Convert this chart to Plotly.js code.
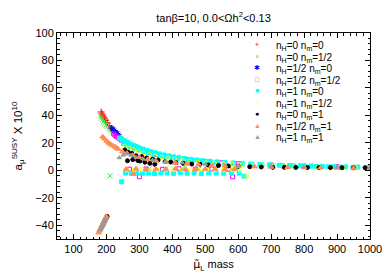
<!DOCTYPE html>
<html><head><meta charset="utf-8">
<script src="https://cdn.plot.ly/plotly-3.0.1.min.js"></script>
<style>html,body{margin:0;padding:0;background:#fff}#chart{width:389px;height:273px}</style>
</head><body><div id="chart"></div>
<script>
// ---- series labels ----
const seriesNames = [
  'n<sub>H</sub>=0 n<sub>m</sub>=0',
  'n<sub>H</sub>=0 n<sub>m</sub>=1/2',
  'n<sub>H</sub>=1/2 n<sub>m</sub>=0',
  'n<sub>H</sub>=1/2 n<sub>m</sub>=1/2',
  'n<sub>H</sub>=1 n<sub>m</sub>=0',
  'n<sub>H</sub>=1 n<sub>m</sub>=1/2',
  'n<sub>H</sub>=0 n<sub>m</sub>=1',
  'n<sub>H</sub>=1/2 n<sub>m</sub>=1',
  'n<sub>H</sub>=1 n<sub>m</sub>=1'
];
const legendGlyphs = ['+','×','✱','□','■','○','●','▲','▲'];

// ---- data: smuon_L mass (GeV) and a_mu^SUSY x 10^10 ----
const m_H0_m0 = [184,187,190,194,198,203,208,214,220,227,235];
const a_H0_m0 = [42.5,41,39.5,38,36.5,34.5,32.5,30.5,29,27.5,26];

const m_H0_mhalf = [182,185,188,191,195,199,203,208,213,218,224,230,237,245,254,265,278,292,308,325,211,330,380,430,480,530,580];
const a_H0_mhalf = [39.5,38,36.8,35.5,34,33,32,30.5,29.5,28.5,27.5,26.5,25,23.5,22,20.5,18.5,16.8,15,13.5,-4,1.2,1,1.3,0.9,1.1,0.8];

const m_Hhalf_m0 = [216,220,224,228,232,236];
const a_Hhalf_m0 = [30.8,29.8,28.8,27.8,26.8,25.8];

const m_Hhalf_mhalf = [222,226,230,235,240,246,252,258,265,273,282,292,303,315,330,350,375,400,450,500,550,600,700,800,900,1000,270,320,370,420,470,520,570,300,583];
const a_Hhalf_mhalf = [26.5,25.5,24.8,24,23,22,21,20,19,18,17,16,15,14,12.8,11.5,10.2,9,7.5,6.4,5.5,4.8,3.8,3.1,2.6,2.2,0.8,1,0.7,1.1,0.9,1,0.8,-4.7,-4.7];

const m_H1_m0 = [240,248,256,264,272,281,290,300,311,322,334,347,360,374,389,404,420,437,455,474,494,515,537,560,585,611,638,666,695,725,756,788,821,855,890,926,963,1000,
  252,262,273,285,298,312,327,343,360,378,397,417,438,460,483,507,532,558,585,613,642,672,703,735,768,802,837,873,910,948,990,
  258,275,292,310,328,346,365,384,404,424,445,466,488,510,533,556,580,603,246,618];
const a_H1_m0 = [23.5,22.3,21.2,20.2,19.2,18.2,17.3,16.3,15.4,14.5,13.6,12.8,12,11.2,10.5,9.8,9.2,8.6,8,7.5,7,6.5,6.1,5.7,5.3,4.9,4.6,4.3,4,3.7,3.5,3.3,3.1,2.9,2.7,2.5,2.4,2.3,
  19.5,18.3,17.2,16,14.9,13.8,12.8,11.8,10.9,10,9.3,8.6,7.9,7.3,6.8,6.3,5.8,5.4,5,4.6,4.3,4,3.7,3.4,3.2,3,2.8,2.6,2.4,2.2,2,
  -2,-2.2,-1.8,-2.1,-2,-2.3,-1.9,-2,-2.2,-1.8,-2.1,-2,-2.2,-1.9,-2,-2.1,-1.8,-2,-8.3,-4.2];

const m_H1_mhalf = [255,268,282,297,313,330,348,367,387,408,430,453,477,502,528,555,583,612,642,673,705,738,772,807,843,880,918,957,1000,
  262,285,308,332,356,380,405,430,455,480,505,530,556,582,605,626];
const a_H1_mhalf = [17.5,16.3,15,13.8,12.6,11.5,10.5,9.6,8.8,8,7.3,6.7,6.1,5.6,5.1,4.7,4.3,3.9,3.6,3.3,3,2.7,2.5,2.3,2.1,1.9,1.7,1.6,1.5,
  0.4,0.2,0.5,0.3,0.1,0.4,0.2,0.5,0.3,0.2,0.4,0.3,0.1,0.4,0.2,-4.2];

const m_H0_m1 = [256,266,277,290,307,322,340,357,378,395,411,433,459,484,509,540,570,600,635,670,705,740,775,810,845,880,915,950,985,
  264,280,295,302,317,332,347,
  186,188,190,192,194,196,198,200,202];
const a_H0_m1 = [14.8,13.2,12.4,10.6,10,9,8.2,7.5,6.3,6,5.6,5.1,4.6,4.4,3.9,3.5,3.2,2.9,2.6,2.4,2.2,2.2,2.1,2.1,2,2,1.9,1.9,1.9,
  7,7.8,7.2,6.8,5.9,5.1,4.4,
  -41,-40,-39,-38,-37,-36,-35,-34.2,-33.6];

const m_Hhalf_m1 = [188.6,194,200.8,207,213,219,226,231,236,249,262,280,300,325,350,380,410,445,480,520,560,600,650,700,750,800,850,900,950,1000,
  260,290,320,350,380,410,440,470,500,530,560,590,282,
  176.5,179,182,185,188,191,194,197,200];
const a_Hhalf_m1 = [24.5,23,21.3,20,18.9,18,17.2,16.3,15.5,13.6,12.5,11,9.5,8,7,6,5.3,4.7,4.2,3.7,3.3,3,2.7,2.4,2.2,2,1.9,1.8,1.7,1.6,
  0.9,1.1,0.8,1,0.9,1.2,0.8,1,0.9,1.1,0.8,1,-2.7,
  -45.4,-44,-42.5,-41,-39.5,-38,-36.5,-35,-33.8];

const m_H1_m1 = [239,251,262,275,290,310,340,380,430,500,600,700,800,900,1000,182,185,188,191,194,197];
const a_H1_m1 = [9.2,11.1,12,11,9.5,8.5,7.5,6.5,5.5,4.5,3.5,3,2.5,2.2,2,-43,-41.5,-40,-38.5,-37,-35.5];

const seriesM = [m_H0_m0,m_H0_mhalf,m_Hhalf_m0,m_Hhalf_mhalf,m_H1_m0,m_H1_mhalf,m_H0_m1,m_Hhalf_m1,m_H1_m1];
const seriesA = [a_H0_m0,a_H0_mhalf,a_Hhalf_m0,a_Hhalf_mhalf,a_H1_m0,a_H1_mhalf,a_H0_m1,a_Hhalf_m1,a_H1_m1];

// ---- styles ----
const colors = ['#ff0000','#33ee33','#0000ff','#ff00ff','#00ffff','#ffff00','#000000','#ff8c55','#999999'];
const symbols = ['cross-thin-open','x-thin-open','asterisk-open','square-open','square','circle-open','circle','triangle-up','triangle-up'];
const sizes = [5,5,5,4,4,4,4,5,4];

const traces = seriesM.map((m,i)=>({
  type:'scatter', mode:'markers', x:m, y:seriesA[i], name:seriesNames[i],
  marker:{symbol:symbols[i], size:sizes[i], color:colors[i], line:{color:colors[i], width:1}},
  hoverinfo:'skip'
}));

const L=57, R=370, T=33, B=239;
const px2paperX = px => (px-L)/(R-L);
const px2paperY = py => (B-py)/(B-T);

const annotations = [];
seriesNames.forEach((nm,i)=>{
  const py = 45 + i*11.45;
  annotations.push({xref:'paper',yref:'paper',x:px2paperX(257),y:px2paperY(py),text:legendGlyphs[i],showarrow:false,
    xanchor:'center',yanchor:'middle',font:{size:7,color:colors[i]}});
  annotations.push({xref:'paper',yref:'paper',x:px2paperX(275),y:px2paperY(py+1.5),text:nm,showarrow:false,
    xanchor:'left',yanchor:'middle',borderpad:0,font:{size:10,color:'#000'}});
});

const axisCommon = {
  ticks:'inside', ticklen:5, tickwidth:1, tickcolor:'#000', mirror:'ticks',
  showline:true, linecolor:'#000', linewidth:1, showgrid:false, zeroline:false,
  tickfont:{size:11,color:'#000'}
};

const layout = {
  width:389, height:273,
  margin:{l:L, r:389-R, t:T, b:273-B, pad:0},
  paper_bgcolor:'#fff', plot_bgcolor:'#fff',
  font:{family:'Liberation Sans, Arial, sans-serif', size:11, color:'#000'},
  showlegend:false,
  title:{text:'tanβ=10, 0.0&lt;Ωh<sup>2</sup>&lt;0.13', x:213.5/389, xanchor:'center', y:1-18/273, yanchor:'middle', font:{size:11}},
  xaxis:Object.assign({}, axisCommon, {
    range:[50,1000], tick0:0, dtick:100,
    minor:{dtick:20, ticks:'inside', ticklen:2.5, tickcolor:'#000', showgrid:false},
    title:{text:'<span style="font-family:DejaVu Sans">μ̃</span><sub>L</sub> mass', standoff:6, font:{size:11}}
  }),
  yaxis:Object.assign({}, axisCommon, {
    range:[-50,100], tick0:0, dtick:20,
    minor:{dtick:4, ticks:'inside', ticklen:2.5, tickcolor:'#000', showgrid:false},
    title:{text:'a<sub>μ</sub><sup>SUSY</sup> X 10<sup>10</sup>', standoff:10, font:{size:11.5}}
  }),
  annotations:annotations,
  hovermode:false
};

Plotly.newPlot('chart', traces, layout, {displayModeBar:false, staticPlot:true});
</script>
</body></html>
